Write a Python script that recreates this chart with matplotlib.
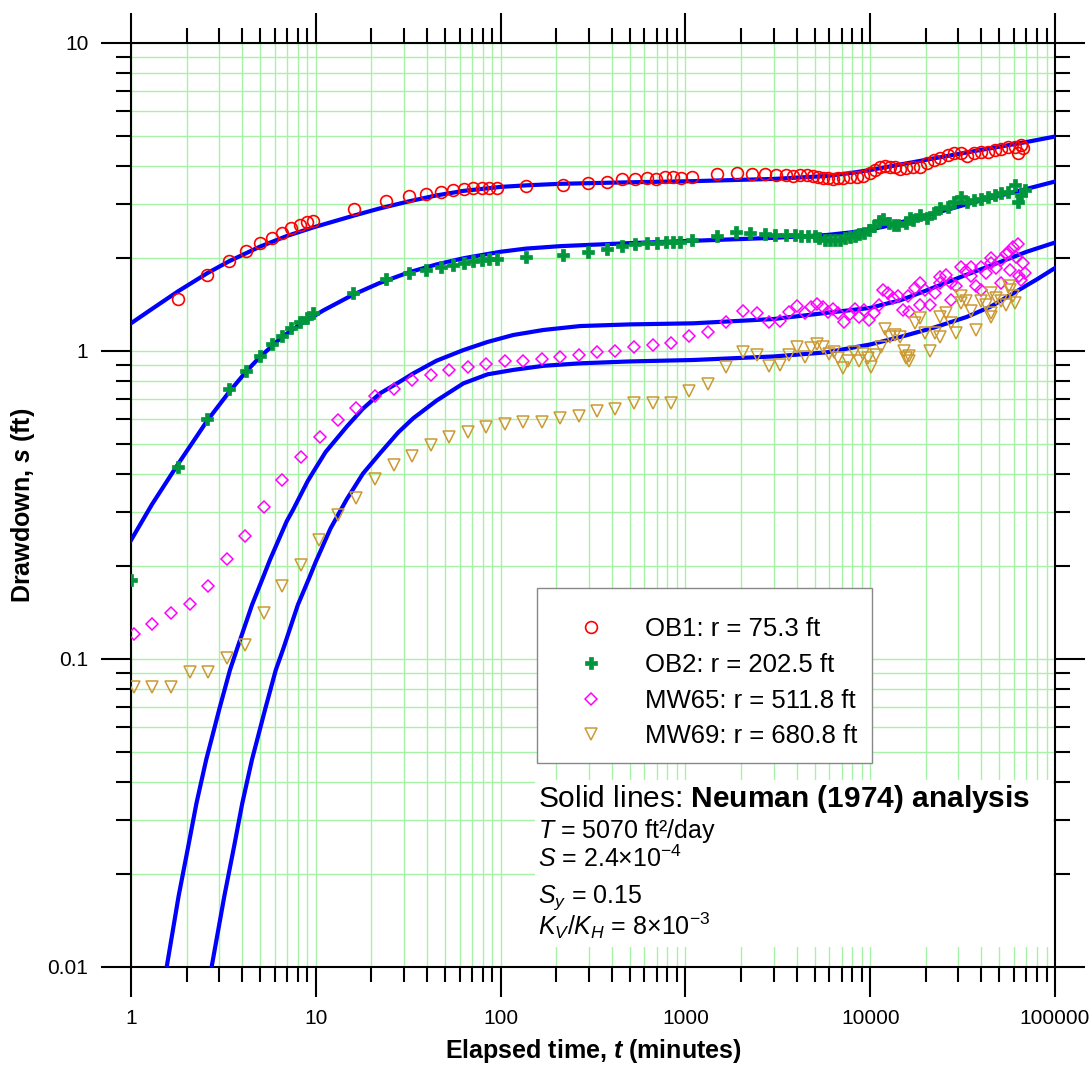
import matplotlib
matplotlib.use('Agg')
import matplotlib.pyplot as plt
from matplotlib.ticker import LogLocator, FixedLocator, FixedFormatter, NullFormatter
from matplotlib.patches import Rectangle

plt.rcParams['font.family'] = ['Liberation Sans', 'DejaVu Sans']
plt.rcParams['mathtext.fontset'] = 'custom'
plt.rcParams['mathtext.rm'] = 'Liberation Sans'
plt.rcParams['mathtext.it'] = 'Liberation Sans:italic'
plt.rcParams['mathtext.bf'] = 'Liberation Sans:bold'
plt.rcParams['mathtext.bfit'] = 'Liberation Sans:bold:italic'

# --- observed drawdown (t in minutes, s in ft) ---
t_ob1 = [1.79, 2.59, 3.39, 4.18, 4.97, 5.77, 6.56, 7.37, 8.22, 8.96,
         9.70, 16.0, 23.9, 31.8, 39.6, 47.4, 55.5, 63.4, 71.2, 79.3,
         86.9, 95.2, 137, 218, 298, 378, 456, 534, 617, 693,
         776, 860, 943, 1089, 1488, 1894, 2283, 2698, 3092, 3500,
         3836, 4169, 4571, 4923, 5237, 5572, 5930, 6310, 6725, 7160,
         7780, 8460, 9190, 9970, 10600, 11300, 12000, 12800, 13600, 14500,
         15700, 17100, 18600, 20300, 22100, 24000, 26200, 28500, 30900, 33600,
         36600, 39800, 43300, 47100, 51200, 55700, 60600, 63400, 65300, 67100]
s_ob1 = [1.48, 1.77, 1.96, 2.11, 2.24, 2.33, 2.41, 2.50, 2.57, 2.62,
         2.64, 2.90, 3.08, 3.19, 3.24, 3.28, 3.33, 3.36, 3.37, 3.37,
         3.39, 3.39, 3.44, 3.46, 3.52, 3.55, 3.61, 3.62, 3.64, 3.62,
         3.66, 3.67, 3.64, 3.67, 3.75, 3.77, 3.76, 3.76, 3.73, 3.73,
         3.70, 3.72, 3.72, 3.70, 3.67, 3.64, 3.64, 3.61, 3.64, 3.64,
         3.67, 3.68, 3.70, 3.77, 3.87, 3.95, 4.00, 3.97, 3.95, 3.90,
         3.93, 3.95, 3.95, 4.07, 4.17, 4.22, 4.33, 4.38, 4.38, 4.30,
         4.38, 4.44, 4.42, 4.49, 4.52, 4.58, 4.60, 4.38, 4.67, 4.55]

t_ob2 = [1.0, 1.80, 2.59, 3.39, 4.18, 4.97, 5.77, 6.56, 7.37, 8.22,
         8.96, 9.70, 15.8, 23.9, 31.8, 39.6, 47.4, 55.5, 63.0, 71.2,
         79.3, 86.9, 95.2, 137, 218, 298, 375, 455, 534, 617,
         700, 790, 860, 937, 1085, 1478, 1872, 2250, 2700, 3050,
         3500, 3900, 4230, 4600, 5000, 5300, 5680, 6080, 6480, 6880,
         7300, 7760, 8240, 8750, 9290, 9860, 10500, 11100, 11800, 12600,
         13400, 14200, 15700, 16400, 17100, 18600, 20300, 22100, 24000, 26200,
         28500, 30900, 33600, 36600, 39800, 43300, 47100, 51200, 55700, 60600,
         63400, 65300, 68800]
s_ob2 = [0.18, 0.42, 0.60, 0.75, 0.86, 0.96, 1.05, 1.12, 1.185, 1.24,
         1.28, 1.33, 1.54, 1.71, 1.79, 1.83, 1.88, 1.90, 1.93, 1.96,
         1.98, 1.99, 1.99, 2.02, 2.05, 2.10, 2.15, 2.19, 2.22, 2.24,
         2.24, 2.26, 2.26, 2.26, 2.30, 2.37, 2.43, 2.41, 2.39, 2.38,
         2.38, 2.38, 2.36, 2.36, 2.36, 2.32, 2.30, 2.29, 2.29, 2.30,
         2.32, 2.34, 2.36, 2.39, 2.42, 2.47, 2.55, 2.65, 2.68, 2.61,
         2.57, 2.57, 2.61, 2.70, 2.66, 2.76, 2.70, 2.80, 2.91, 2.94,
         3.05, 3.17, 3.05, 3.09, 3.12, 3.17, 3.21, 3.25, 3.29, 3.46,
         3.05, 3.21, 3.33]

t_mw65 = [1.04, 1.30, 1.65, 2.08, 2.62, 3.31, 4.16, 5.24, 6.59, 8.32,
          10.5, 13.2, 16.6, 21.0, 26.5, 33.3, 41.9, 52.8, 66.4, 83.7,
          105, 133, 167, 210, 265, 331, 416, 527, 665, 836,
          1050, 1320, 1652, 2060, 2450, 2830, 3250, 3650, 4030, 4440,
          4760, 5130, 5570, 5930, 6310, 6720, 7190, 7770, 8240, 8750,
          9290, 9860, 10500, 11100, 11800, 12500, 13300, 14100, 15000, 16000,
          16300, 17400, 18600, 19800, 21100, 22500, 24000, 25600, 27300, 29100,
          30900, 33000, 35200, 37500, 39800, 42500, 45300, 48200, 51200, 54600,
          57000, 59500, 61600, 64000, 66900, 68500,
          24000, 35200, 45300, 56700, 63400, 18600, 27300, 39800, 51200, 65300]
s_mw65 = [0.121, 0.130, 0.141, 0.151, 0.172, 0.211, 0.251, 0.311, 0.382, 0.453,
          0.525, 0.596, 0.653, 0.716, 0.753, 0.805, 0.836, 0.868, 0.885, 0.908,
          0.928, 0.928, 0.940, 0.958, 0.970, 0.995, 1.00, 1.03, 1.046, 1.064,
          1.12, 1.15, 1.245, 1.35, 1.33, 1.24, 1.25, 1.34, 1.40, 1.33,
          1.39, 1.42, 1.39, 1.34, 1.37, 1.33, 1.245, 1.32, 1.37, 1.29,
          1.36, 1.26, 1.33, 1.41, 1.58, 1.54, 1.49, 1.51, 1.36, 1.51,
          1.34, 1.60, 1.66, 1.58, 1.41, 1.54, 1.66, 1.77, 1.66, 1.62,
          1.88, 1.82, 1.75, 1.62, 1.88, 1.79, 1.93, 1.86, 1.98, 2.07,
          1.83, 2.18, 2.02, 1.75, 1.93, 1.79,
          1.74, 1.88, 2.00, 2.10, 2.22, 1.41, 1.46, 1.58, 1.66, 1.70]

t_mw69 = [1.04, 1.30, 1.65, 2.08, 2.62, 3.31, 4.15, 5.23, 6.59, 8.32,
          10.4, 13.2, 16.6, 20.9, 26.4, 33.1, 41.9, 52.5, 66.4, 83.3,
          105, 133, 167, 210, 264, 331, 416, 527, 665, 836,
          1050, 1320, 1652, 2060, 2450, 2830, 3250, 3650, 4030, 4440,
          4760, 5130, 5570, 6000, 6400, 6720, 7160, 7630, 8130, 8650,
          9190, 9770, 10100, 10800, 11500, 12000, 12800, 13600, 14500, 15300,
          15700, 16300, 17400, 18600, 19800, 21100, 22500, 24000, 25600, 27300,
          29100, 30900, 33000, 35200, 37500, 39800, 42500, 45300, 48200, 51200,
          54600, 57000, 59500, 60600,
          30900, 45300, 56700, 16300, 24000, 45300]
s_mw69 = [0.081, 0.081, 0.081, 0.091, 0.091, 0.101, 0.111, 0.141, 0.172, 0.202,
          0.243, 0.294, 0.334, 0.384, 0.425, 0.456, 0.495, 0.527, 0.547, 0.568,
          0.580, 0.588, 0.588, 0.607, 0.617, 0.639, 0.650, 0.679, 0.679, 0.679,
          0.743, 0.783, 0.885, 0.993, 0.973, 0.894, 0.900, 0.973, 1.03, 0.958,
          1.02, 1.05, 1.03, 0.98, 0.99, 0.95, 0.88, 0.93, 0.99, 0.93,
          0.98, 0.95, 0.89, 0.97, 1.03, 1.175, 1.11, 1.127, 1.11, 1.00,
          0.95, 0.96, 1.23, 1.28, 1.14, 1.00, 1.14, 1.29, 1.33, 1.23,
          1.14, 1.43, 1.45, 1.35, 1.17, 1.45, 1.41, 1.33, 1.49, 1.45,
          1.41, 1.58, 1.51, 1.43,
          1.51, 1.54, 1.62, 0.93, 1.11, 1.29]

# --- Neuman (1974) type curves ---
t_fit1 = [1, 1.3, 1.79, 2.59, 3.39, 4.97, 7.0, 9.7, 16, 22, 31.8, 45, 62.9, 100, 137,
          210, 500, 1104, 3000, 5810, 8000, 10000, 14500, 22100, 40000, 68800, 100000]
s_fit1 = [1.23, 1.37, 1.56, 1.79, 1.955, 2.18, 2.365, 2.52, 2.75, 2.90, 3.06, 3.20, 3.31, 3.41, 3.45,
          3.49, 3.53, 3.56, 3.62, 3.70, 3.79, 3.87, 4.03, 4.22, 4.50, 4.76, 4.97]
t_fit2 = [1, 1.3, 1.8, 2.59, 3.39, 4.18, 4.97, 6.56, 8.22, 11, 15.8, 22, 31.8, 45, 62.9, 100,
          137, 210, 500, 1104, 3000, 5810, 8000, 11800, 20000, 35000, 68800, 100000]
s_fit2 = [0.243, 0.318, 0.43, 0.595, 0.735, 0.855, 0.955, 1.11, 1.22, 1.355, 1.52, 1.66, 1.80, 1.91, 2.00, 2.10,
          2.15, 2.19, 2.24, 2.28, 2.33, 2.38, 2.43, 2.53, 2.75, 3.02, 3.35, 3.55]
t_fit3 = [1.56, 1.81, 2.05, 2.26, 2.55, 3.01, 3.43, 3.77, 4.52, 5.20, 5.65, 6.96, 7.53, 9.04, 9.69,
          11.3, 14.7, 18, 22.3, 28, 33.7, 45, 62.9, 85, 117, 170, 269, 500, 1104, 3000,
          5810, 10000, 12000, 14500, 20000, 33300, 50000, 70300, 100000]
s_fit3 = [0.0100, 0.0170, 0.0250, 0.0340, 0.0470, 0.0690, 0.0920, 0.109, 0.150, 0.185, 0.210, 0.280, 0.305, 0.378, 0.405,
          0.470, 0.568, 0.650, 0.729, 0.790, 0.846, 0.930, 1.007, 1.07, 1.127, 1.17, 1.205, 1.22, 1.23, 1.27,
          1.33, 1.38, 1.42, 1.46, 1.57, 1.77, 1.94, 2.10, 2.25]
t_fit4 = [2.73, 3.2, 3.63, 4.0, 4.51, 5.33, 6.07, 6.67, 8.0, 9.2, 10.0, 12.0, 14.7, 18, 22.3,
          28, 33.7, 45, 62.9, 85, 117, 170, 269, 500, 1104, 3000, 5810, 10000, 14500,
          22000, 33300, 45000, 59500, 80000, 100000]
s_fit4 = [0.0100, 0.0170, 0.0250, 0.034, 0.047, 0.069, 0.092, 0.108, 0.150, 0.183, 0.207, 0.265, 0.330, 0.400, 0.466,
          0.545, 0.605, 0.690, 0.785, 0.840, 0.868, 0.895, 0.912, 0.925, 0.935, 0.960, 0.990, 1.05, 1.11,
          1.19, 1.29, 1.395, 1.54, 1.71, 1.86]

labels = ['OB1: r = 75.3 ft', 'OB2: r = 202.5 ft', 'MW65: r = 511.8 ft', 'MW69: r = 680.8 ft']

fig = plt.figure(figsize=(10.92, 10.67), dpi=100)
ax = fig.add_axes([131/1092, 1 - 967/1067, 924/1092, 924/1067])
ax.set_xscale('log')
ax.set_yscale('log')
ax.set_xlim(1, 100000)
ax.set_ylim(0.01, 10)

for tf, sf in [(t_fit1, s_fit1), (t_fit2, s_fit2), (t_fit3, s_fit3), (t_fit4, s_fit4)]:
    ax.plot(tf, sf, color='#0000ff', lw=3, zorder=3, solid_joinstyle='round')

ax.plot(t_ob1, s_ob1, ls='none', marker='o', ms=8.5, mfc='none', mec='#ff0000', mew=1.2,
        label=labels[0], zorder=4)
ax.plot(t_ob2, s_ob2, ls='none', marker='P', ms=9, mfc='#00963c', mec='#00963c', mew=0.5,
        label=labels[1], zorder=4)
ax.plot(t_mw65, s_mw65, ls='none', marker='D', ms=6.5, mfc='none', mec='#ff00ff', mew=1.1,
        label=labels[2], zorder=4)
ax.plot(t_mw69, s_mw69, ls='none', marker='v', ms=9, mfc='none', mec='#cc9933', mew=1.1,
        label=labels[3], zorder=4)

# ticks, grid
ax.xaxis.set_major_locator(FixedLocator([1, 10, 100, 1000, 10000, 100000]))
ax.xaxis.set_major_formatter(FixedFormatter(['1', '10', '100', '1000', '10000', '100000']))
ax.xaxis.set_minor_locator(LogLocator(base=10, subs=range(2, 10), numticks=20))
ax.xaxis.set_minor_formatter(NullFormatter())
ax.yaxis.set_major_locator(FixedLocator([0.01, 0.1, 1, 10]))
ax.yaxis.set_major_formatter(FixedFormatter(['0.01', '0.1', '1', '10']))
ax.yaxis.set_minor_locator(LogLocator(base=10, subs=range(2, 10), numticks=20))
ax.yaxis.set_minor_formatter(NullFormatter())

ax.tick_params(which='major', direction='out', length=21.6, width=1.5,
               top=True, right=True, labelsize=15, pad=9, color='black')
ax.tick_params(which='minor', direction='out', length=10.8, width=1.5,
               top=True, right=True)
for sp in ax.spines.values():
    sp.set_linewidth(1.5)
ax.grid(which='both', color='#a6f2a6', lw=1)
ax.set_axisbelow(True)

ax.set_xlabel(r'Elapsed time, $\mathbfit{t}$ (minutes)', fontsize=18, fontweight='bold', labelpad=6)
ax.set_ylabel(r'Drawdown, $\mathbfit{s}$ (ft)', fontsize=18, fontweight='bold', labelpad=8)

# legend: frame drawn separately so its size matches
ax.add_patch(Rectangle(((537 - 131) / 924, (967 - 763) / 924), (872 - 537) / 924, (763 - 588) / 924,
                       transform=ax.transAxes, facecolor='white', edgecolor='#888888', lw=1.0, zorder=5))
leg = ax.legend(loc='upper left', bbox_to_anchor=((537 - 131) / 924, (967 - 602) / 924),
                fontsize=18.5, frameon=False, borderpad=0.6, handlelength=3.0, handletextpad=0.6,
                labelspacing=0.45, borderaxespad=0)
leg.set_zorder(6)

# white box behind the parameter text
ax.add_patch(Rectangle(((535 - 131) / 924, (967 - 947) / 924), (1053 - 535) / 924, (947 - 780) / 924,
                       transform=ax.transAxes, facecolor='white', edgecolor='none', zorder=1))

fx = 538 / 1092
fig.text(fx, 1 - 807 / 1067, r'Solid lines: $\mathbf{Neuman\ (1974)\ analysis}$', fontsize=21.5, va='baseline')
fig.text(fx, 1 - 838 / 1067, r'$T$ = 5070 ft²/day', fontsize=18, va='baseline')
fig.text(fx, 1 - 867 / 1067, r'$S$ = 2.4×10$^{-4}$', fontsize=18, va='baseline')
fig.text(fx, 1 - 903 / 1067, r'$S_y$ = 0.15', fontsize=18, va='baseline')
fig.text(fx, 1 - 935 / 1067, r'$K_V$/$K_H$ = 8×10$^{-3}$', fontsize=18, va='baseline')

fig.savefig('out.png', dpi=100)
